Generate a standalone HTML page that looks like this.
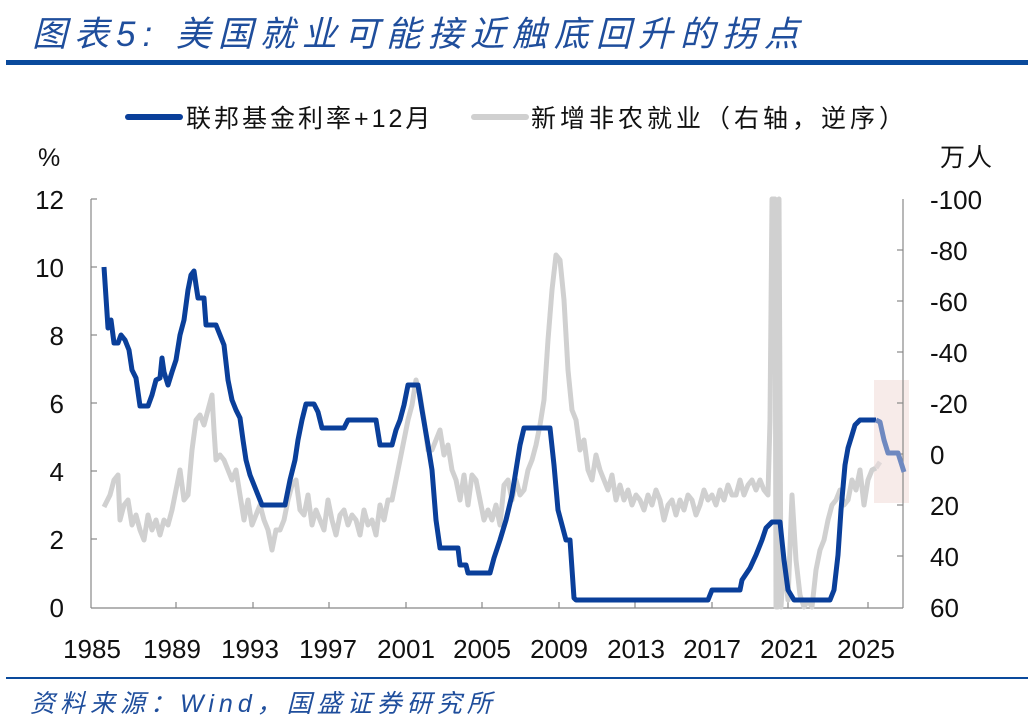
<!DOCTYPE html>
<html><head><meta charset="utf-8"><style>
body{margin:0;width:1028px;height:720px;background:#fff;overflow:hidden;font-family:"Liberation Sans","Noto Sans CJK SC",sans-serif}
</style></head><body>
<svg width="1028" height="720" viewBox="0 0 1028 720" xmlns="http://www.w3.org/2000/svg" style="position:absolute;left:0;top:0">
<text x="32" y="46" font-size="35" font-style="italic" fill="#1f4e9c" letter-spacing="7">图表5:  美国就业可能接近触底回升的拐点</text>
<rect x="6" y="60" width="1022" height="5" fill="#0a4a9c"/>
<line x1="128" y1="117" x2="180" y2="117" stroke="#0a3f9a" stroke-width="6" stroke-linecap="round"/>
<text x="186" y="127" font-size="25" fill="#111" letter-spacing="3">联邦基金利率+12月</text>
<line x1="474" y1="117" x2="526" y2="117" stroke="#d0d0d0" stroke-width="6" stroke-linecap="round"/>
<text x="531" y="127" font-size="25" fill="#111" letter-spacing="4">新增非农就业（右轴，逆序）</text>
<text x="38" y="166" font-size="25" fill="#111">%</text>
<text x="940" y="166" font-size="25" fill="#111" letter-spacing="2">万人</text>
<rect x="874" y="380" width="35" height="123" fill="#f5e6e4" opacity="0.8"/>
<g stroke="#888" stroke-width="1.2">
<line x1="91" y1="199" x2="91" y2="608"/><line x1="903" y1="199" x2="903" y2="608"/><line x1="91" y1="608" x2="903" y2="608"/>
<line x1="91" y1="199" x2="97" y2="199"/><line x1="91" y1="267" x2="97" y2="267"/><line x1="91" y1="335" x2="97" y2="335"/><line x1="91" y1="403" x2="97" y2="403"/><line x1="91" y1="471" x2="97" y2="471"/><line x1="91" y1="539" x2="97" y2="539"/>
<line x1="897" y1="250" x2="903" y2="250"/><line x1="897" y1="301" x2="903" y2="301"/><line x1="897" y1="352" x2="903" y2="352"/><line x1="897" y1="403" x2="903" y2="403"/><line x1="897" y1="454" x2="903" y2="454"/><line x1="897" y1="505" x2="903" y2="505"/><line x1="897" y1="556" x2="903" y2="556"/>
<line x1="176" y1="608" x2="176" y2="602"/><line x1="253" y1="608" x2="253" y2="602"/><line x1="329" y1="608" x2="329" y2="602"/><line x1="406" y1="608" x2="406" y2="602"/><line x1="482" y1="608" x2="482" y2="602"/><line x1="559" y1="608" x2="559" y2="602"/><line x1="635" y1="608" x2="635" y2="602"/><line x1="712" y1="608" x2="712" y2="602"/><line x1="788" y1="608" x2="788" y2="602"/><line x1="868" y1="608" x2="868" y2="602"/>
</g>
<g font-size="26" fill="#111" text-anchor="end">
<text x="64" y="209">12</text><text x="64" y="277">10</text><text x="64" y="345">8</text><text x="64" y="413">6</text><text x="64" y="481">4</text><text x="64" y="549">2</text><text x="64" y="617">0</text>
</g>
<g font-size="26" fill="#111">
<text x="930" y="209">-100</text><text x="930" y="260">-80</text><text x="930" y="311">-60</text><text x="930" y="362">-40</text><text x="930" y="413">-20</text><text x="930" y="464">0</text><text x="930" y="515">20</text><text x="930" y="566">40</text><text x="930" y="617">60</text>
</g>
<g font-size="26" fill="#111" text-anchor="middle">
<text x="92" y="658">1985</text><text x="172" y="658">1989</text><text x="250" y="658">1993</text><text x="328" y="658">1997</text><text x="406" y="658">2001</text><text x="482" y="658">2005</text><text x="559" y="658">2009</text><text x="636" y="658">2013</text><text x="712" y="658">2017</text><text x="789" y="658">2021</text><text x="866" y="658">2025</text>
</g>
<polyline fill="none" stroke="#d0d0d0" stroke-width="5" stroke-linejoin="round" points="104,507 110,495 114,480 118,475 120,520 124,505 128,500 132,525 136,515 140,530 144,540 148,515 152,530 156,520 160,535 164,520 168,525 172,510 176,490 180,470 184,500 188,495 192,450 196,420 200,415 204,425 208,410 212,395 214,430 216,460 220,455 224,460 228,470 232,480 236,470 240,495 244,520 248,500 252,525 256,515 260,505 264,520 268,530 272,550 276,530 280,530 284,520 288,500 292,485 296,480 300,510 304,515 308,495 312,525 316,510 320,520 324,530 328,500 332,520 336,535 340,515 344,510 348,525 352,515 356,520 360,535 364,510 368,525 372,520 376,535 380,505 384,520 388,500 392,500 396,480 400,460 404,440 408,420 412,405 416,380 420,395 424,420 428,450 432,450 436,440 440,430 444,455 448,445 452,470 456,480 460,500 464,475 468,505 472,475 476,480 480,500 484,520 488,510 492,520 496,505 500,525 504,485 508,480 512,500 516,480 520,495 524,490 528,470 532,460 536,445 540,425 544,400 548,340 552,290 556,255 560,260 564,300 568,370 572,410 576,420 580,450 584,440 588,470 592,480 596,455 600,470 604,480 608,490 612,475 616,500 620,485 624,500 628,490 632,505 636,495 640,500 644,510 648,495 652,505 656,490 660,500 664,520 668,505 672,500 676,515 680,500 684,510 688,495 692,500 696,515 700,505 704,490 708,500 712,495 716,505 720,490 724,500 728,485 732,495 736,495 740,480 744,495 748,485 752,480 756,490 760,480 764,490 768,495 770,420 772,199 775,199 776,607 778,607 779,199 781,607 784,560 788,600 792,495 796,560 800,595 804,607 808,600 812,607 816,570 820,550 824,540 828,520 832,505 836,500 840,490 844,505 848,500 852,480 856,490 860,470 864,505 868,480 872,470 876,468"/>
<polyline fill="none" stroke="#e0d8d8" stroke-width="5" points="876,468 880,462"/>
<polyline fill="none" stroke="#0a3f9a" stroke-width="5" stroke-linejoin="round" points="104,267 108,328 111,320 114,343 118,343 121,335 125,340 129,350 132,370 136,378 140,406 148,406 152,395 156,380 160,378 162,358 164,372 168,385 172,372 176,360 180,335 184,320 188,290 191,275 194,271 196,285 198,298 204,298 206,325 216,325 218,330 224,345 228,380 232,400 236,410 240,418 243,440 246,460 250,475 256,490 262,505 285,505 290,480 295,460 298,440 302,420 306,404 314,404 318,412 322,428 344,428 348,420 376,420 380,445 392,445 396,430 400,420 404,405 408,385 418,385 422,410 428,445 432,470 436,520 440,548 458,548 460,565 466,565 468,573 490,573 494,558 500,540 506,520 512,495 516,470 520,445 524,428 550,428 554,465 558,510 566,540 570,540 574,598 576,600 708,600 712,590 740,590 742,580 750,568 756,555 762,540 766,528 772,522 780,522 784,560 788,590 794,600 830,600 834,590 838,555 841,510 845,465 848,448 852,435 855,425 860,420 876,420"/>
<polyline fill="none" stroke="#6f89c0" stroke-width="5" stroke-linejoin="round" points="876,420 880,422 884,440 888,453 898,453 904,472"/>
<rect x="6" y="677" width="1022" height="2" fill="#0a4a9c"/>
<text x="30" y="712" font-size="25" font-style="italic" fill="#1f4e9c" letter-spacing="5">资料来源：Wind，国盛证券研究所</text>
</svg>
</body></html>
